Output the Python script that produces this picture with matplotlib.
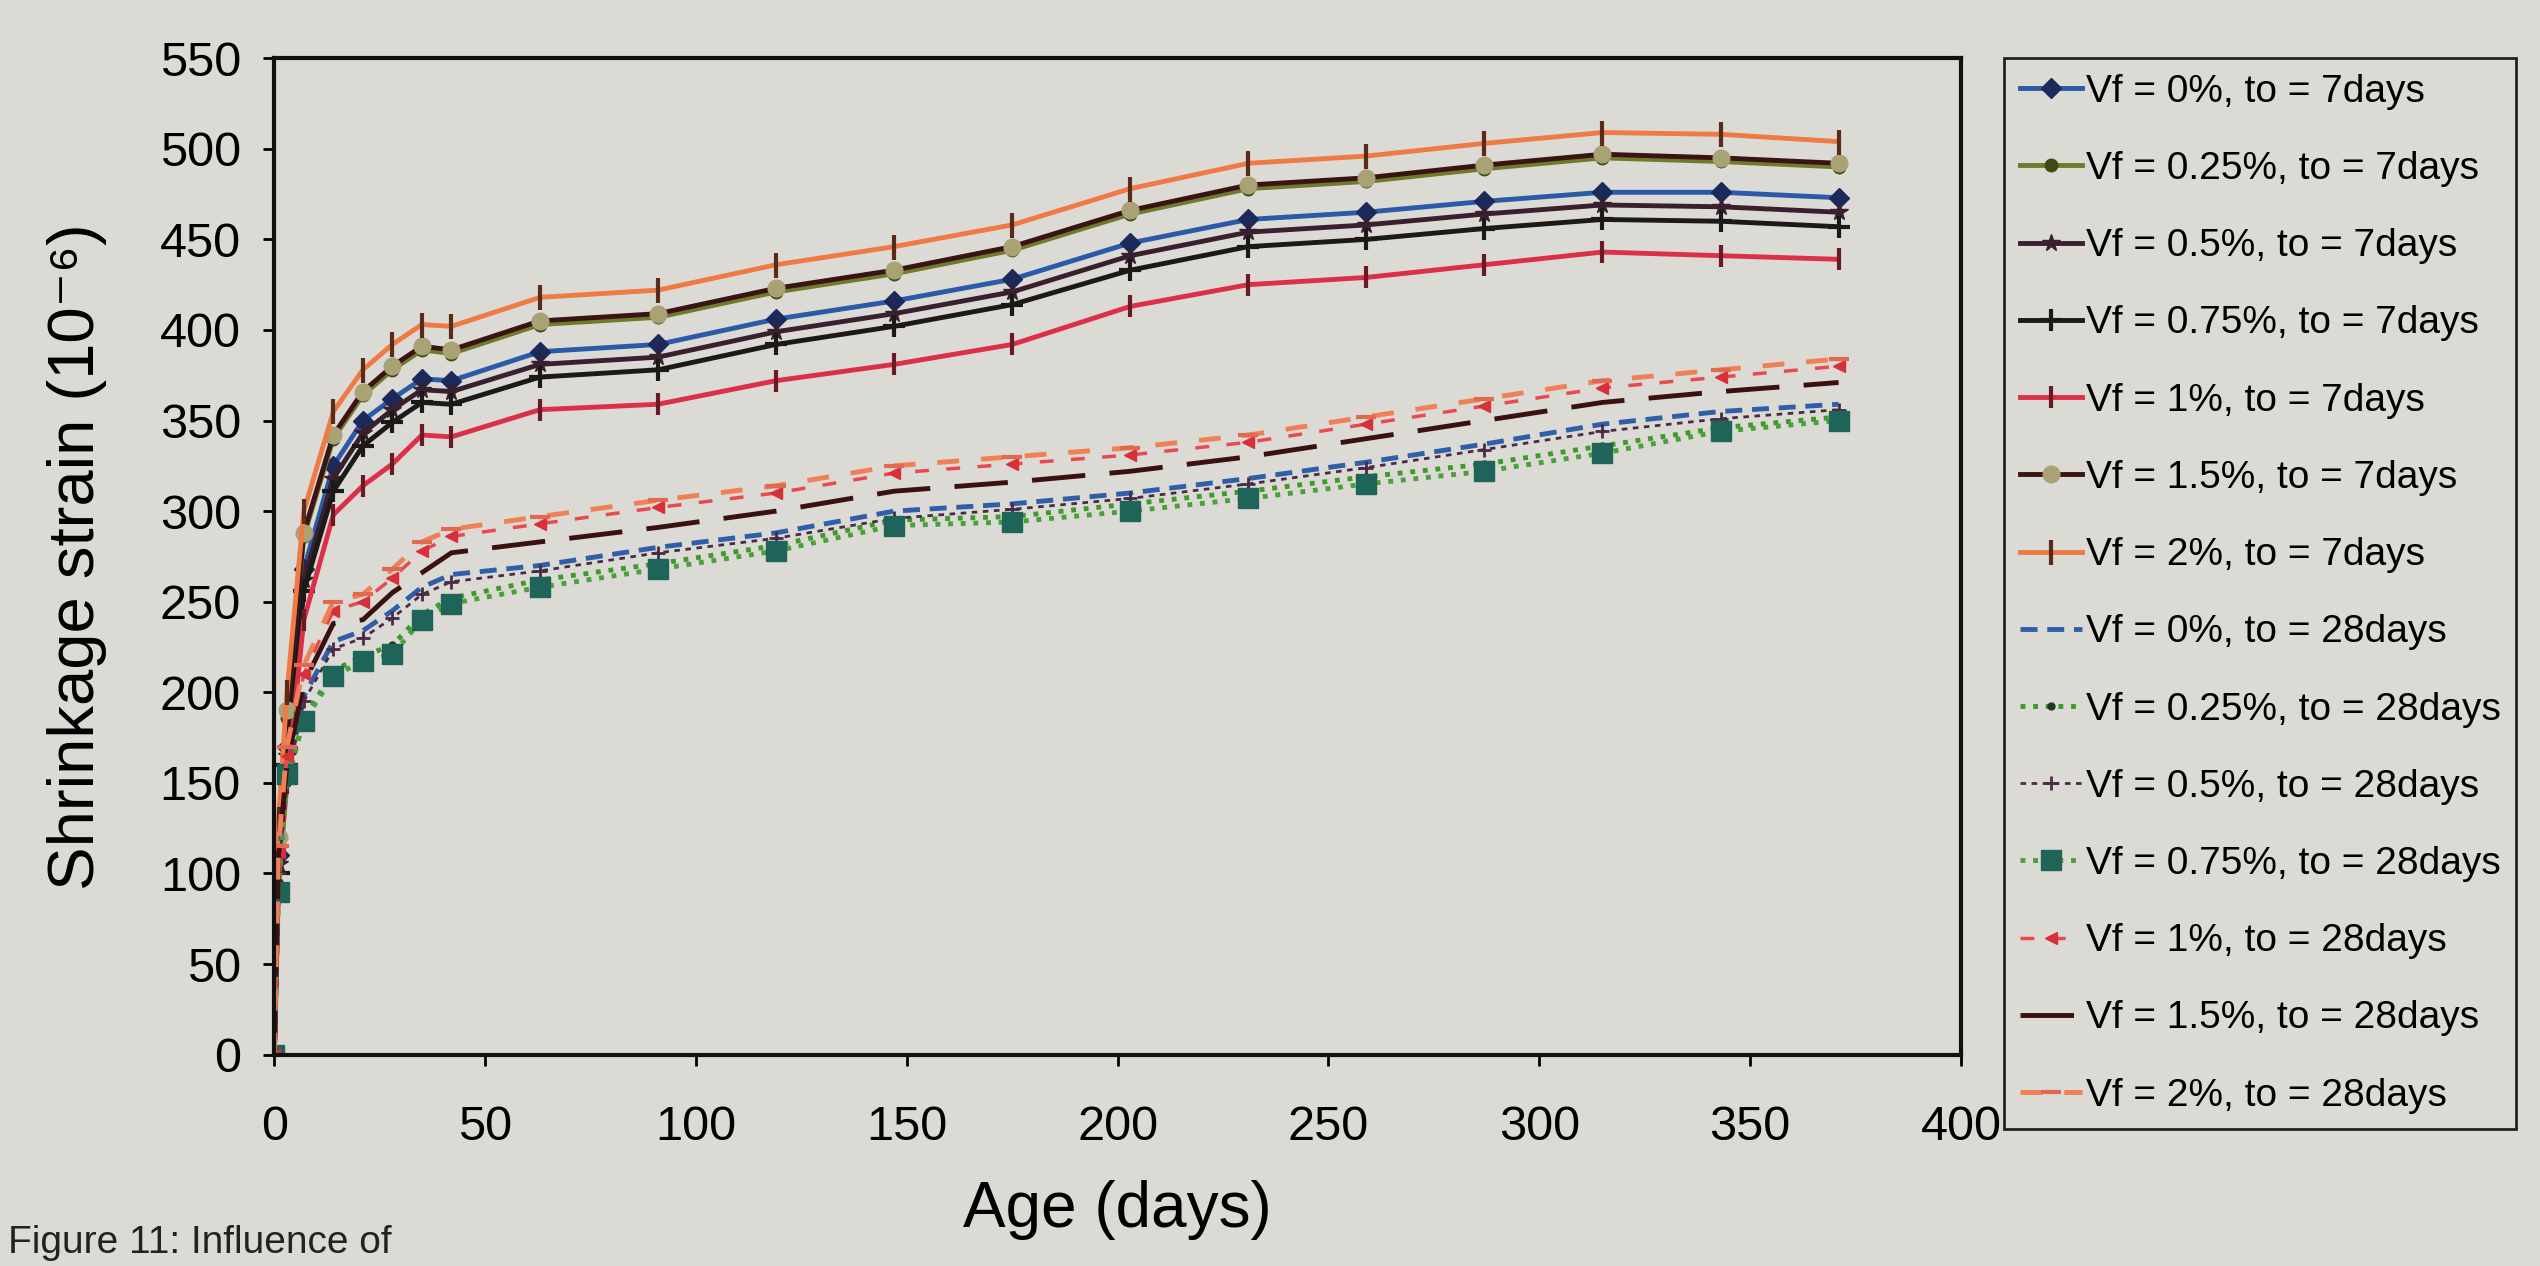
import matplotlib
matplotlib.use("Agg")
import matplotlib.pyplot as plt

plt.rcParams['font.family'] = ['Liberation Sans', 'DejaVu Sans']

# drying age (days)
age = [0, 1, 3, 7, 14, 21, 28, 35, 42, 63, 91, 119, 147, 175, 203, 231, 259, 287, 315, 343, 371]

# shrinkage strain (10^-6), to = 7 days
s0_7 = [0, 110, 170, 268, 325, 350, 362, 373, 372, 388, 392, 406, 416, 428, 448, 461, 465, 471, 476, 476, 473]
s025_7 = [0, 118, 186, 286, 340, 364, 378, 389, 387, 403, 407, 421, 431, 444, 464, 478, 482, 489, 495, 493, 490]
s05_7 = [0, 105, 165, 262, 318, 343, 356, 367, 366, 381, 385, 399, 409, 421, 441, 454, 458, 464, 469, 468, 465]
s075_7 = [0, 100, 160, 256, 311, 336, 349, 360, 359, 374, 378, 392, 402, 414, 433, 446, 450, 456, 461, 460, 457]
s1_7 = [0, 95, 150, 240, 298, 314, 326, 342, 341, 356, 359, 372, 381, 392, 413, 425, 429, 436, 443, 441, 439]
s15_7 = [0, 120, 190, 288, 342, 366, 380, 391, 389, 405, 409, 423, 433, 446, 466, 480, 484, 491, 497, 495, 492]
s2_7 = [0, 130, 200, 300, 355, 378, 392, 403, 402, 418, 422, 436, 446, 458, 478, 492, 496, 503, 509, 508, 504]

# shrinkage strain (10^-6), to = 28 days
s0_28 = [0, 105, 155, 198, 228, 234, 245, 258, 265, 270, 280, 288, 300, 304, 310, 318, 327, 337, 348, 355, 359]
s025_28 = [0, 95, 150, 185, 212, 220, 226, 243, 252, 262, 271, 281, 295, 297, 304, 311, 319, 326, 336, 346, 352]
s05_28 = [0, 100, 150, 195, 224, 230, 241, 254, 261, 267, 277, 285, 296, 301, 307, 315, 324, 334, 344, 351, 356]
s075_28 = [0, 90, 155, 184, 209, 217, 221, 240, 249, 258, 268, 278, 292, 294, 300, 307, 315, 322, 332, 344, 350]
s1_28 = [0, 112, 165, 210, 245, 250, 263, 278, 286, 293, 302, 310, 321, 326, 331, 338, 348, 358, 368, 374, 380]
s15_28 = [0, 110, 160, 205, 238, 240, 255, 266, 277, 283, 291, 300, 311, 316, 322, 330, 340, 350, 360, 366, 371]
s2_28 = [0, 115, 170, 215, 250, 254, 268, 283, 290, 297, 306, 314, 325, 330, 335, 342, 352, 362, 372, 378, 384]

bg = '#dcdad5'
fig = plt.figure(figsize=(25.4, 12.66), dpi=100, facecolor=bg)
ax = fig.add_axes([0.108, 0.167, 0.664, 0.787], facecolor=bg)

lw = 3.5
# to = 7 days
ax.plot(age, s0_7, color='#2a5aa8', lw=lw, marker='D', ms=10, mfc='#1b2a5a', mec='#1b2a5a', label='Vf = 0%, to = 7days')
ax.plot(age, s025_7, color='#6f7a2c', lw=lw, marker='o', ms=9, mfc='#3d4a18', mec='#3d4a18', label='Vf = 0.25%, to = 7days')
ax.plot(age, s05_7, color='#3a1f2e', lw=lw, marker='*', ms=13, mfc='#3a1f2e', mec='#3a1f2e', label='Vf = 0.5%, to = 7days')
ax.plot(age, s075_7, color='#1c1a18', lw=lw, marker='+', ms=16, mew=3, mec='#1c1a18', label='Vf = 0.75%, to = 7days')
ax.plot(age, s1_7, color='#dc3048', lw=lw, marker='|', ms=16, mew=3, mec='#6a1a22', label='Vf = 1%, to = 7days')
ax.plot(age, s15_7, color='#3a1412', lw=lw, marker='o', ms=12, mfc='#a9a274', mec='#a9a274', label='Vf = 1.5%, to = 7days')
ax.plot(age, s2_7, color='#f07a45', lw=lw, marker='|', ms=18, mew=3, mec='#5a2a1a', label='Vf = 2%, to = 7days')

# to = 28 days
ax.plot(age, s0_28, color='#2f5fa8', lw=lw, ls=(0, (3.5, 2)), label='Vf = 0%, to = 28days')
ax.plot(age, s025_28, color='#3f9a2a', lw=lw, ls=(0, (1, 1.6)), marker='o', ms=5, mfc='#1f3a1a', mec='#1f3a1a', label='Vf = 0.25%, to = 28days')
ax.plot(age, s05_28, color='#4a2a44', lw=2, ls=(0, (2, 2)), marker='+', ms=10, mew=2, label='Vf = 0.5%, to = 28days')
ax.plot(age, s075_28, color='#4aa03a', lw=lw, ls=(0, (1, 1.6)), marker='s', ms=15, mfc='#1e6458', mec='#1e6458', label='Vf = 0.75%, to = 28days')
ax.plot(age, s1_28, color='#e84a50', lw=2.5, ls=(0, (4, 5)), marker='<', ms=9, mfc='#d8303a', mec='#d8303a', label='Vf = 1%, to = 28days')
ax.plot(age, s15_28, color='#3a1010', lw=lw, ls=(0, (11, 5)), label='Vf = 1.5%, to = 28days')
ax.plot(age, s2_28, color='#f08055', lw=lw, ls=(0, (4.5, 4.5)), marker='_', ms=14, mew=3, mec='#e06a50', label='Vf = 2%, to = 28days')

ax.set_xlim(0, 400)
ax.set_ylim(0, 550)
ax.set_xticks(range(0, 401, 50))
ax.set_yticks(range(0, 551, 50))
ax.tick_params(labelsize=35, direction='out', length=8, width=2)
ax.tick_params(axis='x', pad=28)
ax.tick_params(axis='y', pad=16)
for sp in ax.spines.values():
    sp.set_linewidth(3)
    sp.set_color('#111111')

ax.set_xlabel('Age (days)', fontsize=46, labelpad=22)
ax.set_ylabel('Shrinkage strain (10⁻⁶)', fontsize=47, labelpad=38)

leg = fig.legend(loc='upper left', bbox_to_anchor=(0.789, 0.954), fontsize=28,
                 frameon=True, fancybox=False, edgecolor='#222222', facecolor=bg,
                 handlelength=1.6, handletextpad=0.1, labelspacing=1.06,
                 borderpad=0.4, borderaxespad=0.0, framealpha=1)
leg.get_frame().set_linewidth(2)

fig.text(0.003, 0.004, 'Figure 11: Influence of', fontsize=28, va='bottom', ha='left', color='#222222')

fig.savefig('out.png', dpi=100, facecolor=bg)
